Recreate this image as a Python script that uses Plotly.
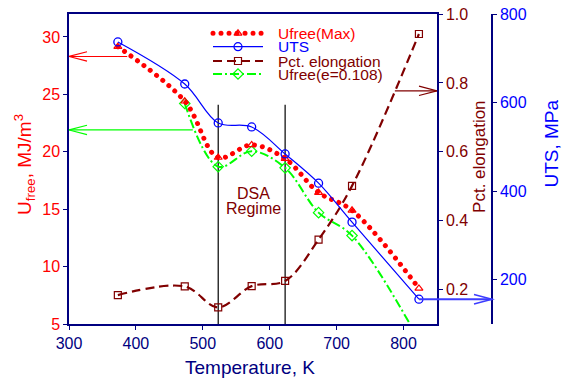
import plotly.graph_objects as go

# Test temperatures (K)
temperature = [373, 473, 523, 573, 623, 673, 723, 823]
# Free energy, maximum (MJ/m^3)
ufree_max = [29.15, 24.4, 19.5, 20.6, 19.4, 16.45, 14.9, 8.1]
# Ultimate tensile strength (MPa)
uts = [737, 642, 554, 545, 484, 418, 330, 156]
# Percent elongation (fraction)
pct_elongation = [0.184, 0.209, 0.148, 0.21, 0.225, 0.345, 0.501, 0.942]
# Free energy at e = 0.108 (MJ/m^3)
temperature_e = [473, 523, 573, 623, 673, 723, 823]
ufree_e0108 = [24.2, 18.7, 20.05, 18.6, 14.7, 12.7, 3.6]

# Arrow levels read against each axis
ufree_max_level, ufree_max_from = 28.3, 387
ufree_e_level, ufree_e_from = 21.9, 485
elong_level, elong_from = 0.777, 787
uts_level, uts_from = 156, 823
dsa_bounds = [523, 623]
dsa_top = 24.1

FONT = "Liberation Sans, Arial, sans-serif"
NAVY = "#000080"
RED = "#ff0000"
BLUE = "#0000ff"
BROWN = "#800000"
GREEN = "#00ff00"

X_RANGE = [300, 850]
XDOM = [0, 368 / 423]

fig = go.Figure()

fig.add_trace(go.Scatter(
    x=temperature, y=pct_elongation, yaxis="y2", mode="lines+markers",
    line=dict(color=BROWN, width=2.2, dash="9px,5px", shape="spline"),
    marker=dict(symbol="square-open", size=7, color=BROWN, line=dict(width=1.2)),
    showlegend=False))
fig.add_trace(go.Scatter(
    x=temperature_e, y=ufree_e0108, mode="lines+markers",
    line=dict(color=GREEN, width=2, dash="9px,3px,2px,3px", shape="spline"),
    marker=dict(symbol="diamond-open", size=8, color=GREEN, line=dict(width=1.2)),
    showlegend=False))
fig.add_trace(go.Scatter(
    x=temperature, y=ufree_max, mode="lines+markers",
    line=dict(color=RED, width=5, dash="dot", shape="spline"),
    marker=dict(symbol="triangle-up-open", size=7, color=RED, line=dict(width=1.2)),
    showlegend=False))
fig.add_trace(go.Scatter(
    x=temperature, y=uts, yaxis="y3", mode="lines+markers",
    line=dict(color=BLUE, width=1.2, shape="spline"),
    marker=dict(symbol="circle-open", size=8, color=BLUE, line=dict(width=1.3)),
    showlegend=False))

# Key drawn on a hidden pixel-scaled overlay
legend_rows = [
    ("Ufree(Max)", RED, RED, 5, "dot", "triangle-up-open", 7),
    ("UTS", BLUE, BLUE, 1.2, "solid", "circle-open", 8),
    ("Pct. elongation", BROWN, BROWN, 2.2, "9px,5px", "square-open", 7),
    ("Ufree(e=0.108)", GREEN, BROWN, 2, "9px,3px,2px,3px", "diamond-open", 8),
]
legend_y = [33.3, 46.7, 61, 74]
annotations = []
for (name, col, tcol, w, dash, sym, ms), yy in zip(legend_rows, legend_y):
    fig.add_trace(go.Scatter(x=[213, 263], y=[yy, yy], xaxis="x4", yaxis="y4",
                             mode="lines", line=dict(color=col, width=w, dash=dash),
                             showlegend=False, hoverinfo="skip"))
    fig.add_trace(go.Scatter(x=[238], y=[yy], xaxis="x4", yaxis="y4", mode="markers",
                             marker=dict(symbol=sym, size=ms, color=col, line=dict(width=1.2)),
                             showlegend=False, hoverinfo="skip"))
    annotations.append(dict(x=276, y=yy, xref="x4", yref="y4", text=name,
                            xanchor="left", yanchor="middle", showarrow=False,
                            font=dict(family=FONT, size=15.5, color=tcol)))

annotations += [
    dict(x=253, y=193.5, xref="x4", yref="y4", text="DSA", showarrow=False,
         xanchor="center", yanchor="middle", font=dict(family=FONT, size=16, color=BROWN)),
    dict(x=253, y=208.5, xref="x4", yref="y4", text="Regime", showarrow=False,
         xanchor="center", yanchor="middle", font=dict(family=FONT, size=16, color=BROWN)),
]

# Axis titles placed in paper units
axis_titles = [
    ("Temperature, K", NAVY, 19, 0.428, -0.139, 0),
    ("U<sub>free</sub>, MJ/m<sup>3</sup>", RED, 19, -0.104, 0.513, -90),
    ("Pct. elongation", BROWN, 17, 0.9716, 0.539, -90),
    ("UTS, MPa", BLUE, 19, 1.1418, 0.582, -90),
]
for text, col, size, ax_x, ax_y, angle in axis_titles:
    annotations.append(dict(x=ax_x, y=ax_y, xref="paper", yref="paper", text=text,
                            textangle=angle, showarrow=False, xanchor="center",
                            yanchor="middle", font=dict(family=FONT, size=size, color=col)))

shapes = []
for b in dsa_bounds:
    shapes.append(dict(type="line", xref="x", yref="y", x0=b, x1=b, y0=5, y1=dsa_top,
                       line=dict(color="black", width=1.2), layer="below"))


def v_head(xref, yref, x, y, direction, color, width):
    d = 18 * direction
    return dict(type="path", xref=xref, yref=yref, xsizemode="pixel", ysizemode="pixel",
                xanchor=x, yanchor=y, path=f"M{d},4.7 L0,0 L{d},-4.7",
                line=dict(color=color, width=width))


shapes += [
    dict(type="line", xref="x", yref="y", x0=ufree_max_from, x1=300,
         y0=ufree_max_level, y1=ufree_max_level, line=dict(color=RED, width=1.2)),
    v_head("x", "y", 300, ufree_max_level, 1, RED, 1.2),
    dict(type="line", xref="x", yref="y", x0=ufree_e_from, x1=300,
         y0=ufree_e_level, y1=ufree_e_level, line=dict(color=GREEN, width=1.2)),
    v_head("x", "y", 300, ufree_e_level, 1, GREEN, 1.2),
    dict(type="line", xref="x", yref="y2", x0=elong_from, x1=850,
         y0=elong_level, y1=elong_level, line=dict(color=BROWN, width=1.2)),
    v_head("x", "y2", 850, elong_level, -1, BROWN, 1.2),
]
uts_from_paper = XDOM[1] * (uts_from - X_RANGE[0]) / (X_RANGE[1] - X_RANGE[0])
shapes += [
    dict(type="line", xref="paper", yref="y3", x0=uts_from_paper, x1=1.0,
         y0=uts_level, y1=uts_level, line=dict(color="#3c3cff", width=2)),
    v_head("paper", "y3", 1.0, uts_level, -1, "#3c3cff", 1.5),
]

tickfont = lambda c: dict(family=FONT, size=16, color=c)
common = dict(ticks="outside", ticklen=4, tickwidth=1.2, tickcolor=NAVY,
              showline=True, linecolor=NAVY, linewidth=1.5, showgrid=False,
              zeroline=False, automargin=False)

fig.update_layout(
    width=567, height=380,
    margin=dict(l=69, r=75, t=14, b=56),
    plot_bgcolor="white", paper_bgcolor="white",
    font=dict(family=FONT),
    showlegend=False,
    xaxis=dict(range=[299.99, 850], domain=XDOM, tick0=300, dtick=100, mirror=True,
               tickfont=tickfont(NAVY), **common),
    yaxis=dict(range=[5, 32], tick0=5, dtick=5, tickfont=tickfont(RED), **common),
    yaxis2=dict(range=[0.1, 1.0001], tick0=0.2, dtick=0.2, tickformat=".1f",
                overlaying="y", side="right", anchor="x", tickfont=tickfont(BROWN), **common),
    yaxis3=dict(range=[100, 800.1], tick0=200, dtick=200, overlaying="y", side="right",
                anchor="free", position=1.0, tickfont=tickfont(BLUE), **common),
    xaxis4=dict(range=[69, 437], overlaying="x", visible=False, automargin=False),
    yaxis4=dict(range=[324, 14], overlaying="y", visible=False, automargin=False),
    annotations=annotations,
    shapes=shapes,
)

# Round-capped dots for the dotted Ufree(Max) curve and its key
post = """
var gd = document.getElementById('{plot_id}');
function roundDots() {
  gd.querySelectorAll('path.js-line').forEach(function(p) {
    if (p.style.stroke === 'rgb(255, 0, 0)') {
      p.style.strokeLinecap = 'round';
      p.style.strokeDasharray = '0.01px,8px';
    }
  });
}
roundDots();
gd.on('plotly_afterplot', roundDots);
"""

fig.write_html("out.html", post_script=post)
